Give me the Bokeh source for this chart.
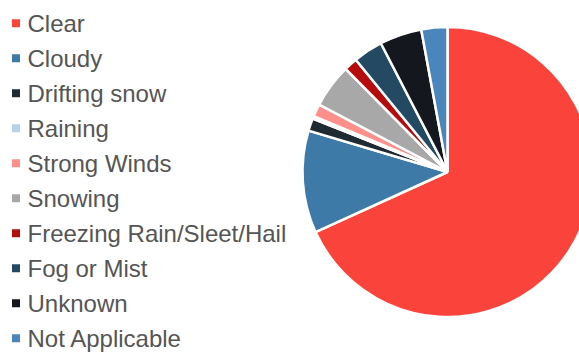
import numpy as np
from bokeh.plotting import figure
from bokeh.models import ColumnDataSource, Range1d
from bokeh.core.properties import value
from bokeh.embed import file_html
from bokeh.resources import INLINE

categories = ["Clear", "Cloudy", "Drifting snow", "Raining", "Strong Winds",
              "Snowing", "Freezing Rain/Sleet/Hail", "Fog or Mist", "Unknown",
              "Not Applicable"]
shares = [68.2, 11.4, 1.4, 0.3, 1.4, 4.9, 1.5, 3.3, 4.7, 2.9]
colors = ["#F9433B", "#3E7AA7", "#1F2A33", "#B8D3E8", "#FF8F8A",
          "#A8A8A8", "#B40C0C", "#244A63", "#14181E", "#4A86BB"]

W, H = 579, 353
p = figure(width=W, height=H, output_backend="svg", toolbar_location=None,
           x_range=Range1d(0, W), y_range=Range1d(0, H), min_border=0)
p.axis.visible = False
p.grid.visible = False
p.outline_line_color = None
p.background_fill_color = "white"

vals = np.array(shares, dtype=float)
frac = vals / vals.sum() * 2 * np.pi
cum = np.concatenate([[0.0], np.cumsum(frac)])
start = np.pi / 2 - cum[:-1]
end = np.pi / 2 - cum[1:]

cx, cy = 447, H - 171.5
src = ColumnDataSource(dict(start=start, end=end, color=colors))
p.wedge(x=cx, y=cy, radius=145, radius_units="screen", start_angle="start",
        end_angle="end", direction="clock", fill_color="color",
        line_color="white", line_width=2.5, source=src)

n = len(categories)
ly = [H - (22.7 + 35 * i) for i in range(n)]
lsrc = ColumnDataSource(dict(x=[15.5] * n, y=ly, tx=[27] * n,
                             ty=ly, text=categories, color=colors))
p.scatter(x="x", y="y", marker="square", size=8, fill_color="color",
          line_color=None, source=lsrc)
p.text(x="tx", y="ty", text="text", text_font=value("Liberation Sans"),
       text_font_size="24px", text_color="#555555", text_baseline="middle",
       text_align="left", source=lsrc)

open("out.html", "w").write(file_html(p, INLINE))
